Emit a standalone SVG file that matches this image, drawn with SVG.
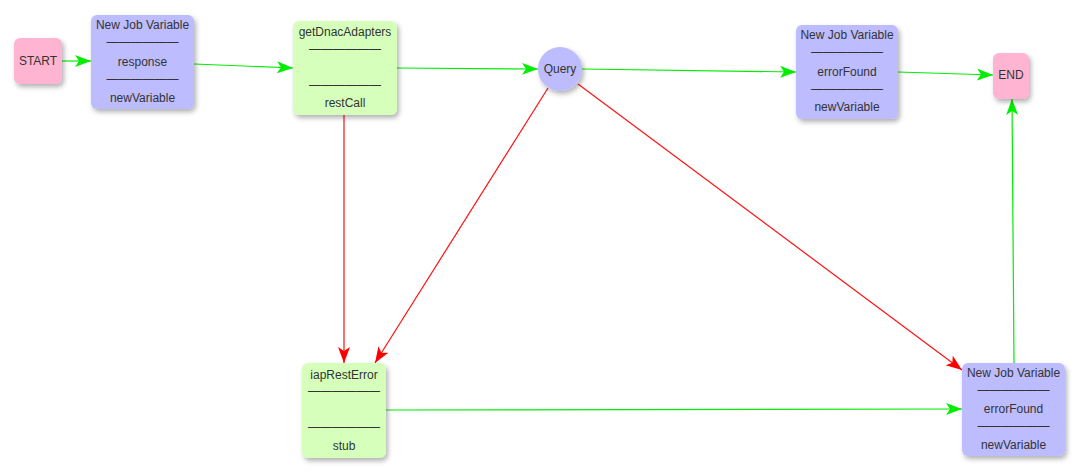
<svg xmlns="http://www.w3.org/2000/svg" width="1080" height="472" viewBox="0 0 1080 472">
<style>
text{font-family:"Liberation Sans",Arial,sans-serif;font-size:12px;fill:#333;text-anchor:middle;dominant-baseline:central}
.pink{fill:#ffb5d2}
.blue{fill:#bcbcff}
.green{fill:#d6ffbc}
.g{stroke:#00ee00;stroke-width:1.2;fill:none;marker-end:url(#ag)}
.r{stroke:#ff1111;stroke-width:1.2;fill:none;marker-end:url(#ar)}
</style>
<defs>
<filter id="sh" x="-20%" y="-20%" width="150%" height="150%">
<feDropShadow dx="2" dy="3" stdDeviation="2.5" flood-color="#000" flood-opacity="0.3"/>
</filter>
<marker id="ag" markerUnits="userSpaceOnUse" markerWidth="18" markerHeight="14" refX="16" refY="6" orient="auto">
<path d="M0,0 L16,6 L0,12 L4,6 Z" fill="#00ee00"/>
</marker>
<marker id="ar" markerUnits="userSpaceOnUse" markerWidth="18" markerHeight="14" refX="16" refY="6" orient="auto">
<path d="M0,0 L16,6 L0,12 L4,6 Z" fill="#ff0000"/>
</marker>
</defs>
<rect width="1080" height="472" fill="#fff"/>
<g id="connectors">
<line class="g" x1="62" y1="61" x2="91" y2="61"/>
<line class="g" x1="194" y1="64" x2="293" y2="68"/>
<line class="g" x1="397" y1="68" x2="538" y2="69"/>
<line class="g" x1="582" y1="69" x2="796" y2="72"/>
<line class="g" x1="898" y1="72" x2="993" y2="75"/>
<line class="r" x1="344" y1="115" x2="344" y2="363"/>
<line class="r" x1="548" y1="88" x2="375" y2="363"/>
<line class="r" x1="578" y1="84" x2="962" y2="370"/>
<line class="g" x1="386" y1="410" x2="962" y2="409"/>
<line class="g" x1="1014" y1="363" x2="1012" y2="99"/>
</g>
<g id="start">
<rect class="pink" x="14" y="38" width="48" height="46" rx="6" filter="url(#sh)"/>
<text x="38" y="61">START</text>
</g>
<g id="njv1">
<rect class="blue" x="91" y="15" width="103" height="94" rx="6" filter="url(#sh)"/>
<text x="142.5" y="25">New Job Variable</text>
<text x="142.5" y="42">——————</text>
<text x="142.5" y="62">response</text>
<text x="142.5" y="79">——————</text>
<text x="142.5" y="98">newVariable</text>
</g>
<g id="getDnacAdapters">
<rect class="green" x="293" y="21" width="104" height="94" rx="6" filter="url(#sh)"/>
<text x="345" y="32">getDnacAdapters</text>
<text x="345" y="49">——————</text>
<text x="345" y="85">——————</text>
<text x="345" y="103">restCall</text>
</g>
<g id="query">
<circle class="blue" cx="560" cy="69" r="22" filter="url(#sh)"/>
<text x="560" y="69">Query</text>
</g>
<g id="njv2">
<rect class="blue" x="796" y="25" width="102" height="94" rx="6" filter="url(#sh)"/>
<text x="847" y="35">New Job Variable</text>
<text x="847" y="52">——————</text>
<text x="847" y="72">errorFound</text>
<text x="847" y="89">——————</text>
<text x="847" y="107">newVariable</text>
</g>
<g id="end">
<rect class="pink" x="993" y="53" width="36" height="46" rx="6" filter="url(#sh)"/>
<text x="1011" y="75">END</text>
</g>
<g id="iapRestError">
<rect class="green" x="302" y="363" width="84" height="95" rx="6" filter="url(#sh)"/>
<text x="344" y="375">iapRestError</text>
<text x="344" y="391">——————</text>
<text x="344" y="427">——————</text>
<text x="344" y="446">stub</text>
</g>
<g id="njv3">
<rect class="blue" x="962" y="363" width="103" height="93" rx="6" filter="url(#sh)"/>
<text x="1013.5" y="373">New Job Variable</text>
<text x="1013.5" y="390">——————</text>
<text x="1013.5" y="409">errorFound</text>
<text x="1013.5" y="426">——————</text>
<text x="1013.5" y="445">newVariable</text>
</g>
</svg>
